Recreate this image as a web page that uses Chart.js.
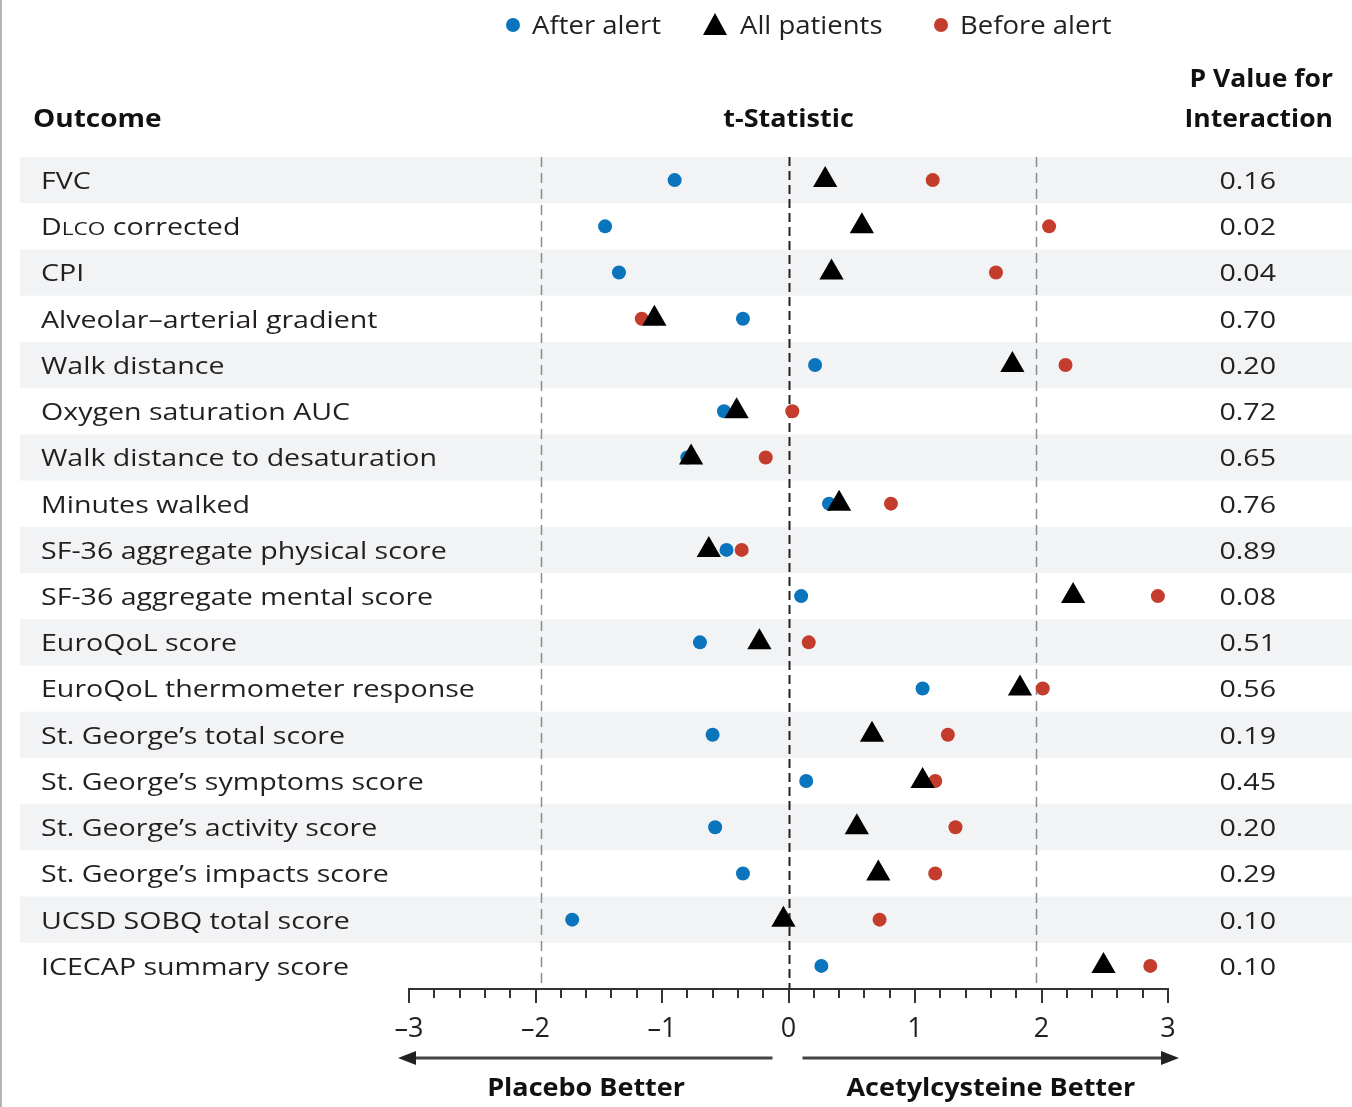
<!DOCTYPE html>
<html>
<head>
<meta charset="utf-8">
<script src="https://cdn.jsdelivr.net/npm/chart.js@4.4.1/dist/chart.umd.min.js"></script>
<style>
  html, body { margin: 0; padding: 0; background: #fff; }
  body { width: 1352px; height: 1107px; overflow: hidden; }
  #wrap { position: relative; width: 1350px; height: 1107px; border-left: 2px solid #b5b5b5; }
</style>
</head>
<body>
<div id="wrap"><canvas id="chart" width="1350" height="1107"></canvas></div>
<script>
const outcomes = [
  'FVC', 'DLCO corrected', 'CPI', 'Alveolar\u2013arterial gradient', 'Walk distance',
  'Oxygen saturation AUC', 'Walk distance to desaturation', 'Minutes walked',
  'SF-36 aggregate physical score', 'SF-36 aggregate mental score', 'EuroQoL score',
  'EuroQoL thermometer response', 'St. George\u2019s total score', 'St. George\u2019s symptoms score',
  'St. George\u2019s activity score', 'St. George\u2019s impacts score', 'UCSD SOBQ total score',
  'ICECAP summary score'
];
const afterAlert  = [-0.90, -1.45, -1.34, -0.36, 0.21, -0.51, -0.80, 0.32, -0.49, 0.10, -0.70, 1.06, -0.60, 0.14, -0.58, -0.36, -1.71, 0.26];
const allPatients = [ 0.29,  0.58,  0.34, -1.06, 1.77, -0.41, -0.77, 0.40, -0.63, 2.25, -0.23, 1.83,  0.66, 1.06,  0.54,  0.71, -0.04, 2.49];
const beforeAlert = [ 1.14,  2.06,  1.64, -1.16, 2.19,  0.03, -0.18, 0.81, -0.37, 2.92,  0.16, 2.01,  1.26, 1.16,  1.32,  1.16,  0.72, 2.86];
const pValues = ['0.16', '0.02', '0.04', '0.70', '0.20', '0.72', '0.65', '0.76', '0.89', '0.08', '0.51', '0.56', '0.19', '0.45', '0.20', '0.29', '0.10', '0.10'];
const critical = [-1.96, 0, 1.96];

const BLUE = '#0a74bd';
const RED = '#c43c2c';
const FONT = '"Open Sans", "DejaVu Sans", sans-serif';

function pts(arr) {
  return arr.map((v, i) => ({ x: v, y: i }));
}

// draw text stretched horizontally a bit (the reference is widened)
function txt(ctx, s, x, y, font, align, sx) {
  ctx.save();
  ctx.font = font;
  ctx.textBaseline = 'middle';
  ctx.textAlign = align || 'left';
  ctx.translate(x, y + 2);
  ctx.scale(sx || 1, 1);
  ctx.fillText(s, 0, 0);
  ctx.restore();
}

function label(ctx, s, x, y) {
  const f = '24px ' + FONT, sx = 1.19;
  if (s.startsWith('DLCO')) {
    ctx.save();
    ctx.font = f;
    const wD = ctx.measureText('D').width * sx;
    ctx.font = '19px ' + FONT;
    const wS = ctx.measureText('LCO').width * sx;
    ctx.restore();
    txt(ctx, 'D', x, y, f, 'left', sx);
    txt(ctx, 'LCO', x + wD, y + 1.5, '19px ' + FONT, 'left', sx);
    txt(ctx, s.slice(4), x + wD + wS, y, f, 'left', sx);
  } else {
    txt(ctx, s, x, y, f, 'left', sx);
  }
}

const decor = {
  id: 'decor',
  beforeDraw(chart) {
    const { ctx, scales: { y } } = chart;
    const h = y.getPixelForValue(1) - y.getPixelForValue(0);
    ctx.save();
    ctx.fillStyle = '#f2f3f5';
    outcomes.forEach((o, i) => {
      if (i % 2 === 0) ctx.fillRect(18, y.getPixelForValue(i) - h / 2, 1332, h);
    });
    ctx.restore();
  },
  beforeDatasetsDraw(chart) {
    const { ctx, chartArea, scales: { x } } = chart;
    ctx.save();
    critical.forEach(c => {
      const px = Math.round(x.getPixelForValue(c)) + 0.5;
      ctx.beginPath();
      ctx.strokeStyle = c === 0 ? '#222' : '#8c8c8c';
      ctx.lineWidth = c === 0 ? 2 : 1.5;
      ctx.setLineDash(c === 0 ? [9, 5] : [10, 6]);
      ctx.moveTo(px, chartArea.top);
      ctx.lineTo(px, chartArea.bottom);
      ctx.stroke();
    });
    ctx.restore();
  },
  afterDraw(chart) {
    const { ctx, chartArea, scales: { x, y } } = chart;
    ctx.save();
    ctx.fillStyle = '#231f20';

    // row labels and P values
    outcomes.forEach((o, i) => {
      const py = y.getPixelForValue(i);
      label(ctx, o, 39, py);
      txt(ctx, pValues[i], 1274, py, '24px ' + FONT, 'right', 1.19);
    });

    // headers
    ctx.fillStyle = '#111';
    const hf = 'bold 25px ' + FONT;
    txt(ctx, 'Outcome', 31, 118, hf, 'left', 1.12);
    txt(ctx, 't-Statistic', x.getPixelForValue(0), 118, hf, 'center', 1.08);
    txt(ctx, 'P Value for', 1331, 78, hf, 'right', 1.06);
    txt(ctx, 'Interaction', 1331, 118, hf, 'right', 1.06);

    // legend
    const lf = '25px ' + FONT;
    const ly = 25;
    chart.data.datasets.forEach(ds => {
      ctx.fillStyle = ds.backgroundColor;
      ctx.beginPath();
      if (ds.pointStyle === 'triangle') {
        ctx.moveTo(ds.legendX, ly - 12);
        ctx.lineTo(ds.legendX + 12, ly + 10);
        ctx.lineTo(ds.legendX - 12, ly + 10);
        ctx.closePath();
      } else {
        ctx.arc(ds.legendX, ly, 7, 0, Math.PI * 2);
      }
      ctx.fill();
      ctx.fillStyle = '#231f20';
      txt(ctx, ds.label, ds.legendX + (ds.pointStyle === 'triangle' ? 25 : 19), ly, lf, 'left', 1.1);
    });

    // axis ticks (major at integers, minor every 0.2)
    ctx.strokeStyle = '#333';
    ctx.lineWidth = 2;
    for (let k = -15; k <= 15; k++) {
      const v = k / 5;
      const px = Math.round(x.getPixelForValue(v));
      const len = k % 5 === 0 ? 14 : 9;
      ctx.beginPath();
      ctx.moveTo(px, chartArea.bottom);
      ctx.lineTo(px, chartArea.bottom + len);
      ctx.stroke();
    }

    // arrows
    const ay = chartArea.bottom + 69;
    const x0 = x.getPixelForValue(0);
    const xl = x.getPixelForValue(-3) - 11;
    const xr = x.getPixelForValue(3) + 11;
    ctx.strokeStyle = '#444';
    ctx.fillStyle = '#222';
    ctx.lineWidth = 3;
    ctx.beginPath();
    ctx.moveTo(xl + 12, ay); ctx.lineTo(x0 - 16, ay);
    ctx.moveTo(x0 + 14, ay); ctx.lineTo(xr - 12, ay);
    ctx.stroke();
    ctx.beginPath();
    ctx.moveTo(xl, ay); ctx.lineTo(xl + 18, ay - 7); ctx.lineTo(xl + 18, ay + 7); ctx.closePath();
    ctx.moveTo(xr, ay); ctx.lineTo(xr - 18, ay - 7); ctx.lineTo(xr - 18, ay + 7); ctx.closePath();
    ctx.fill();

    ctx.fillStyle = '#111';
    txt(ctx, 'Placebo Better', x.getPixelForValue(-1.6), ay + 29, hf, 'center', 1.08);
    txt(ctx, 'Acetylcysteine Better', x.getPixelForValue(1.6), ay + 29, hf, 'center', 1.08);
    ctx.restore();
  }
};

const ctx = document.getElementById('chart').getContext('2d');
new Chart(ctx, {
  type: 'scatter',
  data: {
    datasets: [
      { label: 'After alert', data: pts(afterAlert), backgroundColor: BLUE, borderColor: BLUE,
        pointStyle: 'circle', pointRadius: 7, borderWidth: 0, order: 1, legendX: 511 },
      { label: 'All patients', data: pts(allPatients), backgroundColor: '#000', borderColor: '#000',
        pointStyle: 'triangle', pointRadius: 14, borderWidth: 0, order: 0, legendX: 713 },
      { label: 'Before alert', data: pts(beforeAlert), backgroundColor: RED, borderColor: RED,
        pointStyle: 'circle', pointRadius: 7, borderWidth: 0, order: 2, legendX: 939 }
    ]
  },
  options: {
    responsive: false,
    devicePixelRatio: 1,
    animation: false,
    layout: { padding: { left: 407, right: 184, top: 157, bottom: 0 } },
    plugins: { legend: { display: false }, tooltip: { enabled: false } },
    scales: {
      x: {
        type: 'linear', min: -3, max: 3,
        afterFit(scale) { scale.height = 118; },
        border: { display: true, color: '#333', width: 2 },
        grid: { drawOnChartArea: false, drawTicks: true, tickLength: 14, tickColor: 'rgba(0,0,0,0)' },
        ticks: {
          stepSize: 0.2, autoSkip: false, maxRotation: 0, padding: 10, color: '#231f20',
          font: { family: FONT, size: 27 },
          callback: v => Math.abs(v - Math.round(v)) < 1e-6 ? (Math.round(v) < 0 ? '\u2013' + Math.abs(Math.round(v)) : String(Math.round(v))) : ''
        }
      },
      y: { type: 'linear', min: -0.5, max: 17.5, reverse: true, display: false }
    }
  },
  plugins: [decor]
});
</script>
</body>
</html>
